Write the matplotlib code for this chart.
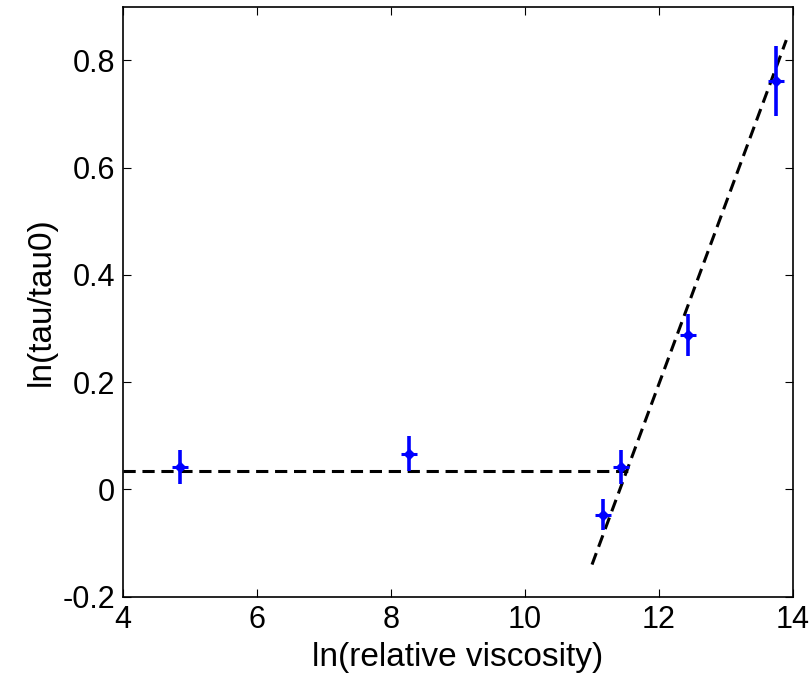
import numpy as np
import matplotlib
matplotlib.use('Agg')
from matplotlib import pyplot as plt

plt.rcParams['font.family'] = ['Liberation Sans Narrow', 'Liberation Sans', 'DejaVu Sans']

# data
visc = [4.85, 8.27, 11.17, 11.43, 12.43, 13.75]
ratio = [0.042, 0.067, -0.047, 0.042, 0.288, 0.762]
err = [0.031, 0.033, 0.029, 0.031, 0.040, 0.065]

flat_x = [4.0, 11.6]
flat_y = [0.035, 0.035]
steep_x = [11.0, 13.9]
steep_y = [-0.14, 0.838]

fig = plt.figure(figsize=(8.1, 6.82), dpi=100)
ax = fig.add_axes([0.152, 0.125, 0.827, 0.865])

ax.plot(flat_x, flat_y, 'k--', lw=2.2, dashes=(4, 2.2))
ax.plot(steep_x, steep_y, 'k--', lw=2.2, dashes=(4, 2.2))
ax.errorbar(visc, ratio, yerr=err, fmt='none', ecolor='b', elinewidth=2.6, capsize=0)
ax.plot(visc, ratio, 'bD', ms=5)
ax.plot(visc, ratio, 'b_', ms=11, mew=2.2)

ax.set_xlim(4, 14)
ax.set_ylim(-0.2, 0.9)
ax.set_xticks([4, 6, 8, 10, 12, 14])
ax.set_yticks([-0.2, 0, 0.2, 0.4, 0.6, 0.8])
ax.set_yticklabels(['-0.2', '0', '0.2', '0.4', '0.6', '0.8'])
ax.tick_params(direction='in', top=True, right=True, labelsize=22, length=6, pad=6)
for s in ax.spines.values():
    s.set_linewidth(1.2)

ax.set_xlabel('ln(relative viscosity)', fontsize=24, labelpad=5)
ax.set_ylabel('ln(tau/tau0)', fontsize=24, labelpad=4)

plt.savefig('out.png', dpi=100)
